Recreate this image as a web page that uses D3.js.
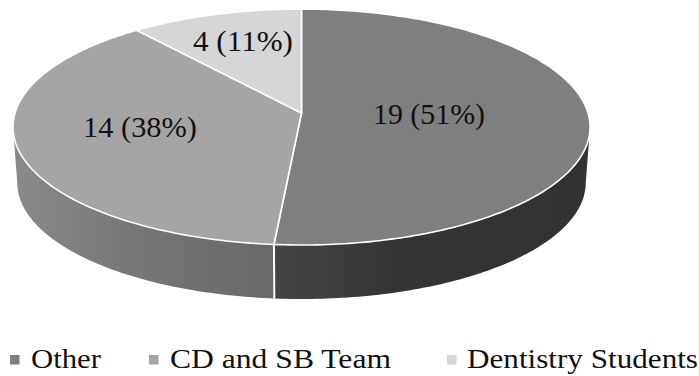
<!DOCTYPE html>
<html>
<head>
<meta charset="utf-8">
<script src="https://cdnjs.cloudflare.com/ajax/libs/d3/7.8.5/d3.min.js"></script>
<style>
  html, body { margin: 0; padding: 0; background: #fff; }
  text { font-family: "Liberation Serif", serif; fill: #111; }
</style>
</head>
<body>
<div id="chart"></div>
<script>
// DATA
const categories = ["Other", "CD and SB Team", "Dentistry Students"];
const counts = [19, 14, 4];
const percents = [51, 38, 11];

// LAYOUT
const width = 699, height = 376;
const cx = 301.5, cy = 113;      // pie apex on screen
const scaleX = 286.5, scaleY = 116.3;
const tilt = 0.119;              // perspective strength
const depth = 56;
const baseShrink = 0.985;
const labelPos = [[429, 124], [140, 136.5], [243, 50.5]]; // label middle / baseline
const labelLen = [112, 114, 100];
const legendMarkerX = [10, 149, 447];
const legendTextX = [31, 170, 467];
const legendTextLen = [70, 221, 231];

const color = d3.scaleOrdinal().domain(categories).range(["#7f7f7f", "#a5a5a5", "#d6d6d6"]);

const svg = d3.select("#chart")
    .append("svg")
    .attr("width", width)
    .attr("height", height)
    .style("display", "block");

// wall shading
const defs = svg.append("defs");
const gradLeft = defs.append("linearGradient").attr("id", "wallLeft");
gradLeft.append("stop").attr("offset", "0%").attr("stop-color", "#8a8a8a");
gradLeft.append("stop").attr("offset", "45%").attr("stop-color", "#777777");
gradLeft.append("stop").attr("offset", "100%").attr("stop-color", "#686868");
const gradRight = defs.append("linearGradient").attr("id", "wallRight");
gradRight.append("stop").attr("offset", "0%").attr("stop-color", "#454545");
gradRight.append("stop").attr("offset", "40%").attr("stop-color", "#343434");
gradRight.append("stop").attr("offset", "100%").attr("stop-color", "#323232");

// Pie angle (0 = far side, clockwise) to screen, with perspective
function project(a, r = 1, drop = 0, shrink = 1) {
    const X = r * Math.sin(a), Y = -r * Math.cos(a);
    const w = 1 - tilt * Y;
    return [cx + shrink * scaleX * X / w, cy + drop + shrink * scaleY * Y / w];
}

function samples(a0, a1) {
    const n = Math.max(2, Math.ceil(Math.abs(a1 - a0) * 60));
    return d3.range(n + 1).map(i => a0 + (a1 - a0) * i / n);
}

const pie = d3.pie().sort(null).value(d => d)(counts);
const line = d3.line();

// Draw walls: front half of the disc, from the right extreme to the left extreme
const rightEnd = Math.PI / 2 + 0.12, leftEnd = 3 * Math.PI / 2 - 0.12;
const split = pie[0].endAngle;

function wallPath(a0, a1) {
    const top = samples(a0, a1).map(a => project(a));
    const bottom = samples(a1, a0).map(a => project(a, 1, depth, baseShrink));
    return line(top.concat(bottom)) + "Z";
}

svg.append("path")
    .attr("d", wallPath(rightEnd, split))
    .attr("fill", "url(#wallRight)");

svg.append("path")
    .attr("d", wallPath(split, leftEnd))
    .attr("fill", "url(#wallLeft)");

// divider between the two walls
svg.append("path")
    .attr("d", line([project(split), project(split, 1, depth, baseShrink)]))
    .attr("stroke", "#fff")
    .attr("stroke-width", 2)
    .attr("fill", "none");

// Draw top face
svg.selectAll(".slice")
    .data(pie)
    .enter().append("path")
    .attr("class", "slice")
    .attr("d", d => line([project(0, 0)].concat(samples(d.startAngle, d.endAngle).map(a => project(a)))) + "Z")
    .attr("fill", (d, i) => color(categories[i]))
    .attr("stroke", "#fff")
    .attr("stroke-width", 1.6)
    .attr("stroke-linejoin", "round");

// Data labels
svg.selectAll(".label")
    .data(pie)
    .enter().append("text")
    .attr("class", "label")
    .attr("x", (d, i) => labelPos[i][0])
    .attr("y", (d, i) => labelPos[i][1])
    .attr("text-anchor", "middle")
    .attr("textLength", (d, i) => labelLen[i])
    .attr("lengthAdjust", "spacingAndGlyphs")
    .style("font-size", "28.5px")
    .text((d, i) => `${counts[i]} (${percents[i]}%)`);

// Legend
const legend = svg.selectAll(".legend")
    .data(categories)
    .enter().append("g")
    .attr("class", "legend");

legend.append("rect")
    .attr("x", (d, i) => legendMarkerX[i])
    .attr("y", 355)
    .attr("width", 9.5)
    .attr("height", 9.5)
    .attr("fill", d => color(d));

legend.append("text")
    .attr("x", (d, i) => legendTextX[i])
    .attr("y", 368)
    .attr("textLength", (d, i) => legendTextLen[i])
    .attr("lengthAdjust", "spacingAndGlyphs")
    .style("font-size", "27px")
    .text(d => d);
</script>
</body>
</html>
